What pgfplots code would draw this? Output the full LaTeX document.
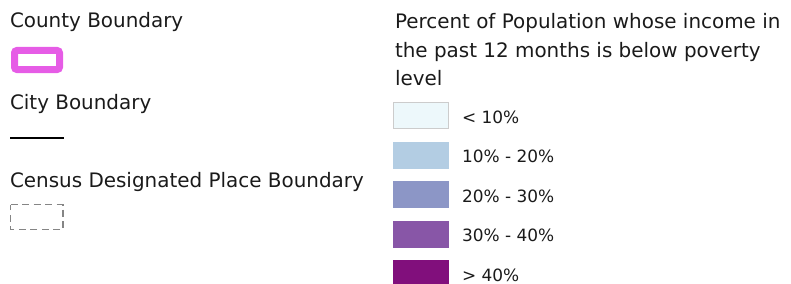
\documentclass[border=0pt]{standalone}
\usepackage{fontspec}
\setmainfont{DejaVu Sans}
\usepackage{pgfplots}
\pgfplotsset{compat=1.18}
\definecolor{txt}{HTML}{1A1A1A}
\definecolor{cA}{HTML}{EDF8FB}
\definecolor{cB}{HTML}{B3CDE3}
\definecolor{cC}{HTML}{8C96C6}
\definecolor{cD}{HTML}{8856A7}
\definecolor{cE}{HTML}{810F7C}
\definecolor{county}{HTML}{E65CE6}
\definecolor{dashgray}{HTML}{858585}
\tikzset{lt/.style={inner sep=0pt, outer sep=0pt, anchor=base west, text=txt, font=\fontsize{20}{24}\selectfont},
         ls/.style={inner sep=0pt, outer sep=0pt, anchor=base west, text=txt, font=\fontsize{17}{20}\selectfont}}
\begin{document}
\begin{tikzpicture}
\begin{axis}[
  scale only axis, width=791bp, height=284bp,
  xmin=0, xmax=791, ymin=0, ymax=284, y dir=reverse,
  hide axis, clip=false,
]
% frame for bounding box
\addplot[draw=none] coordinates {(0,0) (791,284)};
% left legend
\node[lt] at (axis cs:10,28) {County Boundary};
\addplot[draw=county, line width=7bp, rounded corners=2.5bp] coordinates {(14.5,50.5) (59.5,50.5) (59.5,69.5) (14.5,69.5)} -- cycle;
\node[lt] at (axis cs:10,109) {City Boundary};
\addplot[draw=black, line width=2bp] coordinates {(10,138) (64,138)};
\node[lt] at (axis cs:10,187) {Census Designated Place Boundary};
\addplot[draw=dashgray, line width=1.8bp, dash pattern=on 7bp off 4.5bp] coordinates {(10.5,204.5) (63,204.5) (63,229.5) (10.5,229.5)} -- cycle;
% right legend title
\node[lt] at (axis cs:395,29) {Percent of Population whose income in};
\node[lt] at (axis cs:395,57.5) {the past 12 months is below poverty};
\node[lt] at (axis cs:395,85) {level};
% swatches
\addplot[fill=cA, draw=black!20, line width=0.8bp] coordinates {(393.5,102.5) (448.5,102.5) (448.5,128.5) (393.5,128.5)} -- cycle;
\addplot[fill=cB, draw=none] coordinates {(393,141.5) (449,141.5) (449,168.5) (393,168.5)} -- cycle;
\addplot[fill=cC, draw=none] coordinates {(393,181) (449,181) (449,208) (393,208)} -- cycle;
\addplot[fill=cD, draw=none] coordinates {(393,220.5) (449,220.5) (449,247.5) (393,247.5)} -- cycle;
\addplot[fill=cE, draw=none] coordinates {(393,260) (449,260) (449,284) (393,284)} -- cycle;
\node[ls] at (axis cs:462,123) {< 10\%};
\node[ls] at (axis cs:462,162.5) {10\% - 20\%};
\node[ls] at (axis cs:462,202) {20\% - 30\%};
\node[ls] at (axis cs:462,241.5) {30\% - 40\%};
\node[ls] at (axis cs:462,281) {> 40\%};
\end{axis}
\end{tikzpicture}
\end{document}
